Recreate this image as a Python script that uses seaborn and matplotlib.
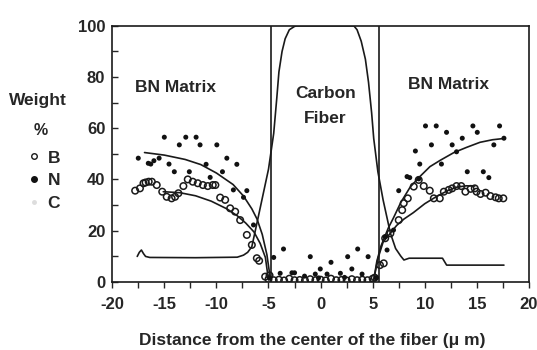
import numpy as np
import pandas as pd
import matplotlib
matplotlib.use("Agg")
import matplotlib.pyplot as plt
from matplotlib.lines import Line2D
import seaborn as sns

# measured points, B (open circles)
b_x = [-17.8, -17.34, -17.0, -16.8, -16.5, -16.2, -15.73, -15.2, -14.77, -14.3, -13.97, -13.65,
       -13.17, -12.75, -12.27, -11.79, -11.3, -10.83, -10.35, -10.1, -9.64, -9.16, -8.68, -8.2,
       -7.72, -7.08, -6.6, -6.12, -5.9, -5.32, -5.0,
       -4.9, -4.5, -4.0, -3.5, -3.0, -2.5, -2.0, -1.5, -1.0, -0.5, 0.0, 0.5, 1.0, 1.5, 2.0,
       2.5, 3.0, 3.5, 4.0, 4.5, 5.0,
       5.2, 5.7, 6.06, 6.2, 6.7, 7.5, 7.83, 7.98, 8.37, 8.94, 9.42, 9.9, 10.48, 10.87, 11.44,
       11.83, 12.3, 12.63, 13.05, 13.5, 13.9, 14.4, 14.8, 14.97, 15.35, 15.84, 16.3, 16.8,
       17.1, 17.54]
b_y = [35.6, 36.5, 38.5, 38.8, 39.1, 39.1, 37.8, 35.2, 33.2, 32.6, 33.2, 34.6,
       37.4, 40.0, 39.1, 38.5, 37.8, 37.4, 37.8, 37.8, 32.9, 32.0, 28.7, 27.4,
       24.1, 18.3, 14.4, 9.2, 8.2, 2.0, 1.0,
       2.5, 0.6, 0.8, 0.5, 1.2, 0.6, 0.7, 0.5, 1.0, 0.6, 0.8, 0.5, 1.2, 0.6, 0.7,
       0.5, 1.0, 0.6, 0.8, 0.6, 1.2,
       1.6, 6.5, 7.2, 17.0, 18.9, 24.1, 28.0, 30.7, 32.6, 37.2, 39.8, 37.4, 35.6, 32.6, 32.6,
       35.2, 35.9, 36.5, 37.4, 37.4, 35.2, 36.3, 36.5, 35.2, 34.3, 34.8, 33.5, 33.0,
       32.6, 32.6]

# measured points, N (filled dots)
n_x = [-17.5, -16.54, -16.3, -16.0, -15.5, -15.0, -14.55, -14.04, -13.56, -12.94, -12.6,
       -11.95, -11.57, -10.99, -10.6, -9.96, -9.42, -9.0, -8.37, -8.04, -7.4, -7.08, -6.44,
       -4.9, -4.5, -3.88, -3.56, -2.75, -2.5, -1.54, -0.99, -0.51, -0.2, -0.03, 0.62, 1.0,
       1.9, 2.3, 2.6, 3.0, 3.56, 3.98, 4.56, 5.36,
       6.2, 6.38, 7.0, 7.5, 8.3, 8.56, 9.1, 9.42, 9.52, 10.07, 10.64, 11.1, 11.6, 12.09,
       12.63, 13.05, 13.6, 14.08, 14.62, 15.04, 15.62, 16.15, 16.63, 17.18, 17.6]
n_y = [48.3, 46.3, 46.0, 47.3, 48.3, 56.5, 46.0, 43.0, 53.5, 56.5, 43.0,
       56.5, 53.5, 45.9, 40.8, 53.5, 43.0, 48.3, 35.9, 45.9, 33.0, 35.6, 22.2,
       1.5, 9.5, 3.3, 12.8, 3.5, 3.5, 2.2, 9.8, 3.0, 1.5, 5.0, 3.0, 7.6,
       3.3, 1.7, 9.8, 5.0, 12.8, 3.0, 9.8, 1.6,
       17.6, 12.4, 20.2, 35.6, 41.1, 40.7, 51.1, 40.2, 46.0, 60.9, 53.5, 60.9, 46.0, 58.4,
       53.5, 50.8, 56.1, 43.0, 60.9, 58.4, 43.0, 40.7, 53.5, 60.9, 56.1]

# C line profile
c_x = [-17.6, -17.4, -17.2, -17.0, -16.8, -16.4, -12.0, -8.0, -7.4, -7.0, -6.6, -6.0, -5.5,
       -5.0, -4.5, -4.2, -4.0, -3.7, -3.4, -3.0, -2.5, -2.3, 3.2, 3.5, 3.9, 4.3, 4.6, 4.9,
       5.1, 5.5, 6.0, 6.7, 7.2, 7.7, 8.0, 8.5, 11.7, 12.1, 17.6]
c_y = [9.9, 11.5, 12.4, 11.0, 9.9, 9.5, 9.4, 9.6, 10.4, 11.5, 13.7, 25.0, 34.5,
       44.0, 58.0, 72.0, 82.0, 90.0, 95.0, 98.5, 99.8, 100, 100, 98.5, 94.0, 87.0, 78.0, 66.0,
       56.0, 43.0, 32.0, 19.0, 13.0, 10.0, 8.5, 9.2, 9.2, 6.5, 6.5]

# fitted trend lines
nfit_l_x = [-16.9, -15.0, -13.0, -11.5, -10.0, -8.4, -7.4, -6.6, -6.1, -5.6, -5.15, -4.8]
nfit_l_y = [50.5, 49.5, 47.8, 45.8, 42.5, 38.0, 33.5, 28.5, 24.5, 18.5, 10.5, 0.5]
bfit_l_x = [-15.1, -13.5, -12.0, -10.5, -9.0, -8.0, -7.2, -6.4, -5.8, -5.3, -5.0]
bfit_l_y = [35.2, 34.8, 33.6, 31.5, 28.5, 25.8, 23.0, 19.5, 15.0, 9.5, 0.7]
nfit_r_x = [5.1, 5.4, 5.8, 6.5, 7.0, 7.7, 8.6, 9.5, 10.5, 11.5, 12.8, 14.0, 15.3, 16.5, 17.6]
nfit_r_y = [0.7, 8.0, 14.0, 21.0, 25.0, 31.0, 37.0, 41.0, 45.0, 47.5, 50.5, 52.5, 54.5, 55.5, 56.0]
bfit_r_x = [5.1, 5.5, 6.0, 6.6, 7.3, 8.0, 8.9, 10.0, 11.2, 12.3, 13.1, 14.0, 14.8]
bfit_r_y = [0.7, 9.0, 15.5, 18.5, 22.0, 24.5, 27.0, 30.5, 33.5, 35.8, 37.0, 37.5, 37.4]

fiber_edges = [-4.75, 5.6]

sns.set_style("ticks")
plt.rcParams['font.family'] = ['Liberation Sans', 'DejaVu Sans']
plt.rcParams['font.weight'] = 'bold'
plt.rcParams['axes.unicode_minus'] = False

fig = plt.figure(figsize=(5.37, 3.5), dpi=100)
ax = fig.add_axes([0.209, 0.195, 0.776, 0.731])

lw = 1.2
for fx, fy in [(nfit_l_x, nfit_l_y), (bfit_l_x, bfit_l_y), (nfit_r_x, nfit_r_y),
               (bfit_r_x, bfit_r_y), (c_x, c_y)]:
    sns.lineplot(x=fx, y=fy, sort=False, estimator=None, color='#1a1a1a', lw=lw, ax=ax)

for e in fiber_edges:
    ax.axvline(e, color='#1a1a1a', lw=lw)

sns.scatterplot(x=b_x, y=b_y, marker='o', s=22, facecolor='none', edgecolor='#1a1a1a',
                linewidth=1.1, ax=ax, zorder=3)
sns.scatterplot(x=n_x, y=n_y, marker='o', s=13, color='#111111', edgecolor='none',
                ax=ax, zorder=4)

ax.set_xlim(-20, 20)
ax.set_ylim(0, 100)
ax.set_xticks(np.arange(-20, 21, 5))
ax.set_xticks(np.arange(-20, 21, 2.5), minor=True)
ax.set_yticks(np.arange(0, 101, 20))
ax.set_yticks(np.arange(0, 101, 10), minor=True)
ax.tick_params(axis='x', which='both', direction='out', length=4, width=1, labelsize=12,
               pad=7)
ax.tick_params(axis='y', which='both', direction='in', length=4, width=1, labelsize=12,
               pad=5)
for lab in ax.get_xticklabels() + ax.get_yticklabels():
    lab.set_fontweight('bold')
for sp in ax.spines.values():
    sp.set_linewidth(1.2)
    sp.set_color('#1a1a1a')

fig.text(312 / 537, 1 - 340 / 350, "Distance from the center of the fiber (\u03bc m)",
         fontsize=12.5, fontweight='bold', ha='center', va='center')

ax.text(-13.9, 76, "BN Matrix", fontsize=12.5, fontweight='bold', ha='center', va='center')
ax.text(12.3, 77, "BN Matrix", fontsize=12.5, fontweight='bold', ha='center', va='center')
ax.text(0.45, 73.5, "Carbon", fontsize=12.5, fontweight='bold', ha='center', va='center')
ax.text(0.45, 64, "Fiber", fontsize=12.5, fontweight='bold', ha='center', va='center')

fig.text(0.071, 0.714, "Weight", fontsize=12.5, fontweight='bold', ha='center', va='center')
fig.text(0.076, 0.628, "%", fontsize=11.5, fontweight='bold', ha='center', va='center')

handles = [Line2D([], [], ls='none', marker='o', mfc='none', mec='#1a1a1a', ms=4),
           Line2D([], [], ls='none', marker='o', color='#111111', ms=4),
           Line2D([], [], ls='none', marker='o', color='#dddddd', ms=2.5)]
fig.legend(handles, ["B", "N", "C"], loc='upper left', bbox_to_anchor=(0.022, 0.615),
           frameon=False, handlelength=0.8, handletextpad=0.35, labelspacing=0.45,
           prop={'weight': 'bold', 'size': 12.5})

fig.savefig("out.png", dpi=100)
